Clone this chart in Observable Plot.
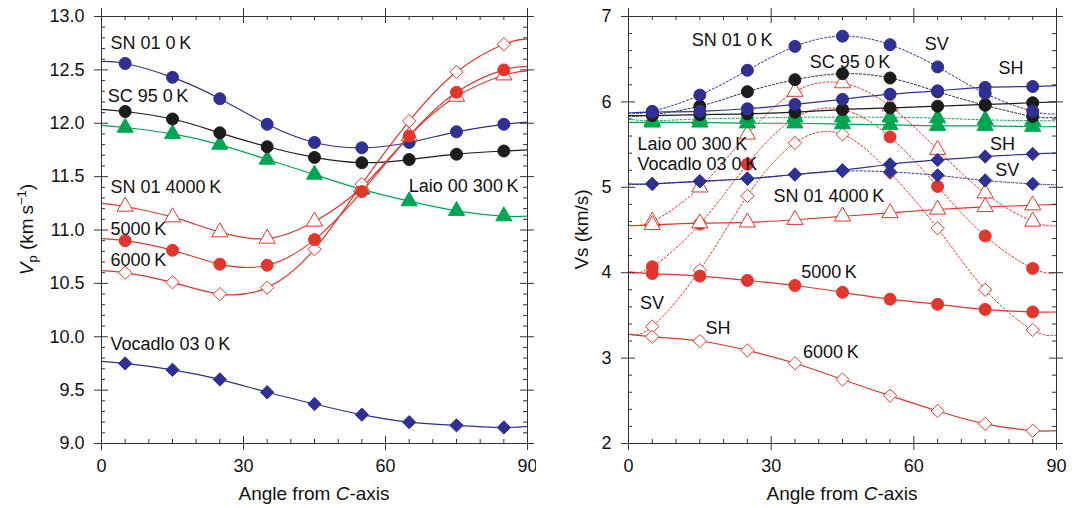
<!DOCTYPE html>
<html><head><meta charset="utf-8">
<script src="https://cdn.jsdelivr.net/npm/d3@7"></script>
<script src="https://cdn.jsdelivr.net/npm/@observablehq/plot@0.6"></script>
<style>
body{margin:0;background:#fff;}
#wrap{display:flex;width:1072px;height:508px;overflow:hidden;}
#wrap svg{display:block;}
</style></head><body><div id="wrap"></div>
<script>
// ---------- shared ----------
const angles = [5, 15, 25, 35, 45, 55, 65, 75, 85];
const xMajor = [0, 30, 60, 90];
const xMinor = [5, 10, 15, 20, 25, 35, 40, 45, 50, 55, 65, 70, 75, 80, 85];

// ---------- left panel: Vp (km/s) ----------
const vpSN01_0K   = [12.56, 12.43, 12.23, 11.99, 11.82, 11.77, 11.82, 11.92, 11.99];
const vpSN01_0K_e = [12.58, 12.01];
const vpSC95_0K   = [12.11, 12.04, 11.91, 11.78, 11.68, 11.63, 11.66, 11.71, 11.74];
const vpSC95_0K_e = [12.13, 11.75];
const vpLaio300   = [11.96, 11.90, 11.80, 11.66, 11.52, 11.38, 11.27, 11.18, 11.13];
const vpLaio300_e = [11.98, 11.13];
const vp4000      = [11.22, 11.12, 10.98, 10.92, 11.08, 11.40, 11.88, 12.25, 12.45];
const vp4000_e    = [11.25, 12.49];
const vp5000      = [10.90, 10.81, 10.68, 10.67, 10.91, 11.36, 11.88, 12.29, 12.50];
const vp5000_e    = [10.92, 12.53];
const vp6000      = [10.60, 10.51, 10.40, 10.46, 10.82, 11.43, 12.02, 12.48, 12.74];
const vp6000_e    = [10.62, 12.79];
const vpVoc03     = [9.75, 9.69, 9.60, 9.48, 9.37, 9.27, 9.20, 9.17, 9.15];
const vpVoc03_e   = [9.77, 9.16];
const vpYMajor = [9.0, 9.5, 10.0, 10.5, 11.0, 11.5, 12.0, 12.5, 13.0];

// ---------- right panel: Vs (km/s) ----------
const vsSN01_0K_SH = [5.88, 5.89, 5.92, 5.97, 6.03, 6.09, 6.13, 6.17, 6.18];
const vsSN01_0K_SH_e = [5.87, 6.19];
const vsSN01_0K_SV = [5.89, 6.08, 6.37, 6.65, 6.77, 6.67, 6.41, 6.10, 5.89];
const vsSN01_0K_SV_e = [5.87, 5.86];
const vsSC95_SH = [5.84, 5.85, 5.86, 5.88, 5.91, 5.93, 5.95, 5.97, 5.99];
const vsSC95_SH_e = [5.84, 6.00];
const vsSC95_SV = [5.85, 5.95, 6.12, 6.26, 6.33, 6.28, 6.12, 5.96, 5.83];
const vsSC95_SV_e = [5.83, 5.82];
const vsLaio_SV = [5.78, 5.80, 5.81, 5.82, 5.82, 5.82, 5.81, 5.79, 5.78];
const vsLaio_SV_e = [5.80, 5.78];
const vsLaio_SH = [5.76, 5.76, 5.75, 5.75, 5.74, 5.73, 5.72, 5.72, 5.71];
const vsLaio_SH_e = [5.76, 5.71];
const vsVoc_SH = [5.04, 5.07, 5.10, 5.15, 5.20, 5.27, 5.32, 5.36, 5.39];
const vsVoc_SH_e = [5.04, 5.40];
const vsVoc_SV = [5.04, 5.07, 5.10, 5.15, 5.19, 5.18, 5.14, 5.08, 5.04];
const vsVoc_SV_e = [5.03, 5.03];
const vs4000_SH = [4.56, 4.58, 4.59, 4.62, 4.66, 4.70, 4.74, 4.77, 4.79];
const vs4000_SH_e = [4.55, 4.80];
const vs4000_SV = [4.60, 5.00, 5.62, 6.12, 6.22, 5.95, 5.44, 4.93, 4.60];
const vs4000_SV_e = [4.56, 4.55];
const vs5000_SH = [3.99, 3.96, 3.91, 3.85, 3.77, 3.69, 3.63, 3.57, 3.54];
const vs5000_SH_e = [4.01, 3.54];
const vs5000_SV = [4.07, 4.57, 5.27, 5.81, 5.91, 5.59, 5.01, 4.43, 4.05];
const vs5000_SV_e = [4.00, 4.00];
const vs6000_SH = [3.25, 3.20, 3.09, 2.94, 2.75, 2.56, 2.38, 2.23, 2.15];
const vs6000_SH_e = [3.28, 2.15];
const vs6000_SV = [3.37, 4.03, 4.90, 5.52, 5.62, 5.17, 4.52, 3.80, 3.33];
const vs6000_SV_e = [3.28, 3.27];
const vsYMajor = [2, 3, 4, 5, 6, 7];

// ---------- annotation text ----------
const vpLabels = [
  {t: "SN 01 0\u2009K", x: 1.9, y: 12.75, a: "start"},
  {t: "SC 95 0\u2009K", x: 1.3, y: 12.25, a: "start"},
  {t: "SN 01 4000\u2009K", x: 1.9, y: 11.40, a: "start"},
  {t: "Laio 00 300\u2009K", x: 88.1, y: 11.41, a: "end"},
  {t: "5000\u2009K", x: 1.9, y: 11.01, a: "start"},
  {t: "6000\u2009K", x: 1.9, y: 10.72, a: "start"},
  {t: "Vocadlo 03 0\u2009K", x: 1.9, y: 9.93, a: "start"}
];
const vsLabels = [
  {t: "SN 01 0\u2009K", x: 13.3, y: 6.72, a: "start"},
  {t: "SC 95 0\u2009K", x: 38.1, y: 6.47, a: "start"},
  {t: "SV", x: 62.3, y: 6.68, a: "start"},
  {t: "SH", x: 77.8, y: 6.40, a: "start"},
  {t: "Laio 00 300\u2009K", x: 1.9, y: 5.51, a: "start"},
  {t: "Vocadlo 03 0\u2009K", x: 1.9, y: 5.27, a: "start"},
  {t: "SH", x: 76.0, y: 5.50, a: "start"},
  {t: "SV", x: 77.1, y: 5.20, a: "start"},
  {t: "SN 01 4000\u2009K", x: 30.5, y: 4.89, a: "start"},
  {t: "5000\u2009K", x: 36.3, y: 4.01, a: "start"},
  {t: "SV", x: 2.4, y: 3.64, a: "start"},
  {t: "SH", x: 16.2, y: 3.35, a: "start"},
  {t: "6000\u2009K", x: 36.7, y: 3.07, a: "start"}
];

// ---------- styles ----------
const BLUE = "#2e3192", BLACK = "#1c1c1c", GREEN = "#00a651", RED = "#e0362b";
const FONT = "'Liberation Sans', Arial, Helvetica, sans-serif";
const AX = "#333";

function seriesMarks(values, ends, color, symbol, filled, dotted, r) {
  const pts = angles.map((a, i) => ({a, v: values[i]}));
  const line = [{a: 0, v: ends[0]}, ...pts, {a: 90, v: ends[1]}];
  return [
    Plot.line(line, {x: "a", y: "v", stroke: color, strokeWidth: dotted ? 1 : 1.2, curve: "natural",
      strokeDasharray: dotted ? "2,2" : null}),
    Plot.dot(pts, {x: "a", y: "v", symbol, r, fill: filled ? color : "white", stroke: color, strokeWidth: 1})
  ];
}

function frameMarks(yMajor, yMinor, innerW, innerH) {
  return [
    Plot.frame({stroke: AX, strokeWidth: 1}),
    Plot.tickX(xMajor, {insetTop: innerH - 7, insetBottom: -7, stroke: AX}),
    Plot.tickX(xMajor, {insetTop: -8, insetBottom: innerH - 7, stroke: AX}),
    Plot.tickX(xMinor, {insetTop: innerH - 4, insetBottom: 0, stroke: AX}),
    Plot.tickX(xMinor, {insetTop: 0, insetBottom: innerH - 4, stroke: AX}),
    Plot.tickY(yMajor, {insetLeft: -7, insetRight: innerW - 7, stroke: AX}),
    Plot.tickY(yMajor, {insetLeft: innerW - 7, insetRight: -7, stroke: AX}),
    Plot.tickY(yMinor, {insetLeft: 0, insetRight: innerW - 4, stroke: AX}),
    Plot.tickY(yMinor, {insetLeft: innerW - 4, insetRight: 0, stroke: AX})
  ];
}

function labelMarks(labels) {
  return [
    Plot.text(labels.filter(d => d.a === "start"), {x: "x", y: "y", text: "t", textAnchor: "start", fontSize: 18, fill: "#111"}),
    Plot.text(labels.filter(d => d.a === "end"), {x: "x", y: "y", text: "t", textAnchor: "end", fontSize: 18, fill: "#111"})
  ];
}

function xTitle(s, cx) {
  const xl = s.append("text").attr("x", cx).attr("y", 500)
    .attr("text-anchor", "middle").attr("font-size", 19).attr("fill", "#111");
  xl.append("tspan").text("Angle from ");
  xl.append("tspan").attr("font-style", "italic").text("C");
  xl.append("tspan").text("-axis");
}

const W = 536, H = 508;

// ----- left -----
{
  const mL = 101, mR = 9, mT = 16, mB = 65;
  const innerW = W - mL - mR, innerH = H - mT - mB;
  const yMinor = d3.range(90, 131).map(d => d / 10).filter(d => !vpYMajor.includes(d));
  const svg = Plot.plot({
    width: W, height: H, marginLeft: mL, marginRight: mR, marginTop: mT, marginBottom: mB,
    style: {fontFamily: FONT, color: "#111", background: "white", overflow: "visible"},
    x: {domain: [0, 90]},
    y: {domain: [9, 13]},
    marks: [
      ...seriesMarks(vpVoc03, vpVoc03_e, BLUE, "diamond2", true, false, 6),
      ...seriesMarks(vpLaio300, vpLaio300_e, GREEN, "triangle", true, false, 6),
      ...seriesMarks(vpSC95_0K, vpSC95_0K_e, BLACK, "circle", true, false, 6),
      ...seriesMarks(vpSN01_0K, vpSN01_0K_e, BLUE, "circle", true, false, 6),
      ...seriesMarks(vp4000, vp4000_e, RED, "triangle", false, false, 6),
      ...seriesMarks(vp6000, vp6000_e, RED, "diamond2", false, false, 6),
      ...seriesMarks(vp5000, vp5000_e, RED, "circle", true, false, 6),
      ...frameMarks(vpYMajor, yMinor, innerW, innerH),
      Plot.axisX({ticks: xMajor, tickSize: 0, tickPadding: 16, fontSize: 18, label: null}),
      Plot.axisY({ticks: vpYMajor, tickSize: 0, tickPadding: 17, fontSize: 18, tickFormat: d3.format(".1f"), label: null}),
      ...labelMarks(vpLabels)
    ]
  });
  const s = d3.select(svg);
  const t = s.append("text").attr("transform", `translate(33,${mT + innerH / 2}) rotate(-90)`)
    .attr("text-anchor", "middle").attr("font-size", 19).attr("fill", "#111");
  t.append("tspan").attr("font-style", "italic").text("V");
  t.append("tspan").attr("font-size", 13).attr("dy", 4).text("p");
  t.append("tspan").attr("dy", -4).text(" (km\u2009s");
  t.append("tspan").attr("font-size", 13).attr("dy", -7).text("\u22121");
  t.append("tspan").attr("dy", 7).text(")");
  xTitle(s, mL + innerW / 2);
  document.getElementById("wrap").append(svg);
}

// ----- right -----
{
  const mL = 92, mR = 16, mT = 16, mB = 65;
  const innerW = W - mL - mR, innerH = H - mT - mB;
  const yMinor = d3.range(10, 36).map(d => d / 5).filter(d => !vsYMajor.includes(d));
  const svg = Plot.plot({
    width: W, height: H, marginLeft: mL, marginRight: mR, marginTop: mT, marginBottom: mB,
    style: {fontFamily: FONT, color: "#111", background: "white", overflow: "visible"},
    x: {domain: [0, 90]},
    y: {domain: [2, 7]},
    marks: [
      ...seriesMarks(vs6000_SV, vs6000_SV_e, RED, "diamond2", false, true, 6),
      ...seriesMarks(vs6000_SH, vs6000_SH_e, RED, "diamond2", false, false, 6),
      ...seriesMarks(vs5000_SV, vs5000_SV_e, RED, "circle", true, true, 6),
      ...seriesMarks(vs5000_SH, vs5000_SH_e, RED, "circle", true, false, 6),
      ...seriesMarks(vs4000_SV, vs4000_SV_e, RED, "triangle", false, true, 6),
      ...seriesMarks(vs4000_SH, vs4000_SH_e, RED, "triangle", false, false, 6),
      ...seriesMarks(vsVoc_SV, vsVoc_SV_e, BLUE, "diamond2", true, true, 6),
      ...seriesMarks(vsVoc_SH, vsVoc_SH_e, BLUE, "diamond2", true, false, 6),
      ...seriesMarks(vsLaio_SV, vsLaio_SV_e, GREEN, "triangle", true, true, 6),
      ...seriesMarks(vsLaio_SH, vsLaio_SH_e, GREEN, "triangle", true, false, 6),
      ...seriesMarks(vsSC95_SV, vsSC95_SV_e, BLACK, "circle", true, true, 6),
      ...seriesMarks(vsSC95_SH, vsSC95_SH_e, BLACK, "circle", true, false, 6),
      ...seriesMarks(vsSN01_0K_SV, vsSN01_0K_SV_e, BLUE, "circle", true, true, 6),
      ...seriesMarks(vsSN01_0K_SH, vsSN01_0K_SH_e, BLUE, "circle", true, false, 6),
      ...frameMarks(vsYMajor, yMinor, innerW, innerH),
      Plot.axisX({ticks: xMajor, tickSize: 0, tickPadding: 16, fontSize: 18, label: null}),
      Plot.axisY({ticks: vsYMajor, tickSize: 0, tickPadding: 17, fontSize: 18, tickFormat: d3.format("d"), label: null}),
      ...labelMarks(vsLabels)
    ]
  });
  const s = d3.select(svg);
  s.append("text").attr("transform", `translate(52,${mT + innerH / 2}) rotate(-90)`)
    .attr("text-anchor", "middle").attr("font-size", 19).attr("fill", "#111").text("Vs (km/s)");
  xTitle(s, mL + innerW / 2);
  document.getElementById("wrap").append(svg);
}
</script></body></html>
